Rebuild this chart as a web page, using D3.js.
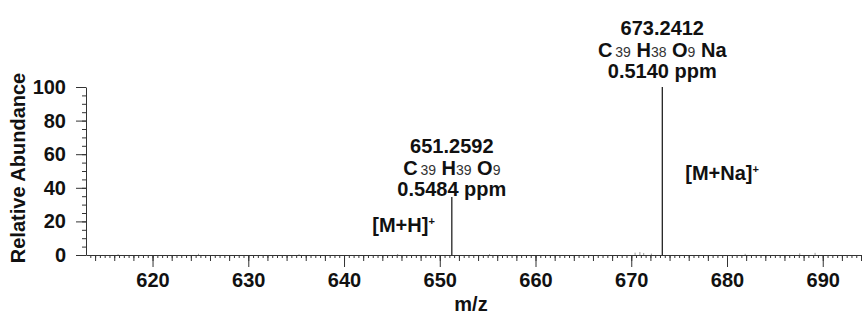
<!DOCTYPE html>
<html>
<head>
<meta charset="utf-8">
<script src="https://cdnjs.cloudflare.com/ajax/libs/d3/7.8.5/d3.min.js"></script>
<style>
  body { margin: 0; background: #fff; }
  svg { display: block; }
  text { font-family: "Liberation Sans", Arial, sans-serif; fill: #111; }
</style>
</head>
<body>
<div class="root"></div>
<script>
// ---- data ----
var peakMz        = [651.2592, 673.2412];
var peakIntensity = [34.5, 100];
var peakPpm       = ["0.5484 ppm", "0.5140 ppm"];
var peakFormula   = [
  [["C", "39"], ["H", "39"], ["O", "9"]],
  [["C", "39"], ["H", "38"], ["O", "9"], ["Na", ""]]
];
var peakAdduct    = ["[M+H]", "[M+Na]"];

// small baseline noise seen along the axis
var noiseMz        = [616.4, 624.8, 635.3, 645.6, 655.2, 670.4, 670.9, 671.3, 672.1, 681.9, 687.6, 689.2];
var noiseIntensity = [0.5, 0.7, 0.5, 0.6, 0.5, 1.4, 1.8, 1.2, 0.8, 0.7, 1.0, 1.3];

var yTickLabels = [0, 20, 40, 60, 80, 100];
var xTickLabels = [620, 630, 640, 650, 660, 670, 680, 690];

var width = 862, height = 316;
var fs = '20px';

var svg = d3.select('.root')
            .append('svg')
            .attr('width', width)
            .attr('height', height);

var x = d3.scaleLinear().domain([613.05, 694.1]).range([86, 862]);
var y = d3.scaleLinear().domain([0, 100]).range([255, 87]);

// ---- y axis ----
var yMinor = svg.append('g')
  .attr('transform', 'translate(86,0)')
  .call(d3.axisLeft(y).tickValues(d3.range(0, 101, 5)).tickSize(4).tickFormat(''));
yMinor.select('.domain').remove();

var yAxis = svg.append('g')
  .attr('transform', 'translate(86,0)')
  .call(d3.axisLeft(y).tickValues(yTickLabels).tickSize(10).tickSizeOuter(0).tickPadding(10));

// ---- x axis ----
var xMinor = svg.append('g')
  .attr('transform', 'translate(0,255)')
  .call(d3.axisBottom(x).tickValues(d3.range(613.5, 694.1, 0.5)).tickSize(3).tickFormat(''));
xMinor.select('.domain').remove();

var xMid = svg.append('g')
  .attr('transform', 'translate(0,255)')
  .call(d3.axisBottom(x).tickValues(d3.range(614, 694.1, 2)).tickSize(6).tickFormat(''));
xMid.select('.domain').remove();

var xAxis = svg.append('g')
  .attr('transform', 'translate(0,255)')
  .call(d3.axisBottom(x).tickValues(xTickLabels).tickSize(12).tickSizeOuter(0).tickPadding(6));

svg.selectAll('.tick line, .domain').attr('stroke', '#333').attr('stroke-width', 1);
svg.selectAll('.tick text')
   .style('font-size', fs)
   .style('font-weight', 'bold')
   .attr('fill', '#111');

// axis titles
svg.append('text')
   .attr('transform', 'translate(25,168) rotate(-90)')
   .attr('text-anchor', 'middle')
   .style('font-size', fs)
   .style('font-weight', 'bold')
   .text('Relative Abundance');

svg.append('text')
   .attr('x', 471).attr('y', 311)
   .attr('text-anchor', 'middle')
   .style('font-size', fs)
   .style('font-weight', 'bold')
   .text('m/z');

// ---- noise ----
svg.selectAll('.noise')
   .data(noiseMz)
   .enter().append('line')
   .attr('class', 'noise')
   .attr('x1', d => x(d)).attr('x2', d => x(d))
   .attr('y1', y(0))
   .attr('y2', (d, i) => y(noiseIntensity[i]))
   .attr('stroke', '#999')
   .attr('stroke-width', 1);

// ---- peaks ----
svg.selectAll('.peak')
   .data(peakMz)
   .enter().append('line')
   .attr('class', 'peak')
   .attr('x1', d => x(d)).attr('x2', d => x(d))
   .attr('y1', y(0))
   .attr('y2', (d, i) => y(peakIntensity[i]))
   .attr('stroke', '#111')
   .attr('stroke-width', 1.2);

// label blocks above peaks
var labelGap = [1, 9];
var lineH = 21.5;

peakMz.forEach(function (mz, i) {
  var cx = x(mz);
  var bottom = y(peakIntensity[i]) - labelGap[i];

  svg.append('text')
     .attr('x', cx).attr('y', bottom - 2 * lineH)
     .attr('text-anchor', 'middle')
     .style('font-size', fs).style('font-weight', 'bold')
     .text(mz.toFixed(4));

  var f = svg.append('text')
     .attr('x', cx).attr('y', bottom - lineH)
     .attr('text-anchor', 'middle')
     .style('font-size', fs).style('font-weight', 'bold');
  peakFormula[i].forEach(function (el, j) {
    f.append('tspan').text((j > 0 ? ' ' : '') + el[0]);
    if (el[1]) {
      f.append('tspan')
       .style('font-size', '14px')
       .style('font-weight', 'normal')
       .attr('fill', '#333')
       .text((el[0] === 'C' ? '\u2009' : '') + el[1]);
    }
  });

  svg.append('text')
     .attr('x', cx).attr('y', bottom)
     .attr('text-anchor', 'middle')
     .style('font-size', fs).style('font-weight', 'bold')
     .text(peakPpm[i]);
});

// adduct labels
var adduct = svg.selectAll('.adduct')
  .data(peakAdduct)
  .enter().append('text')
  .attr('class', 'adduct')
  .attr('x', (d, i) => i === 0 ? x(peakMz[i]) - 17 : x(peakMz[i]) + 23)
  .attr('y', (d, i) => i === 0 ? y(0) - 23 : y(0) - 75)
  .attr('text-anchor', (d, i) => i === 0 ? 'end' : 'start')
  .style('font-size', fs).style('font-weight', 'bold');
adduct.append('tspan').text(d => d);
adduct.append('tspan')
  .attr('dy', -7)
  .style('font-size', '11px')
  .text('+');
</script>
</body>
</html>
